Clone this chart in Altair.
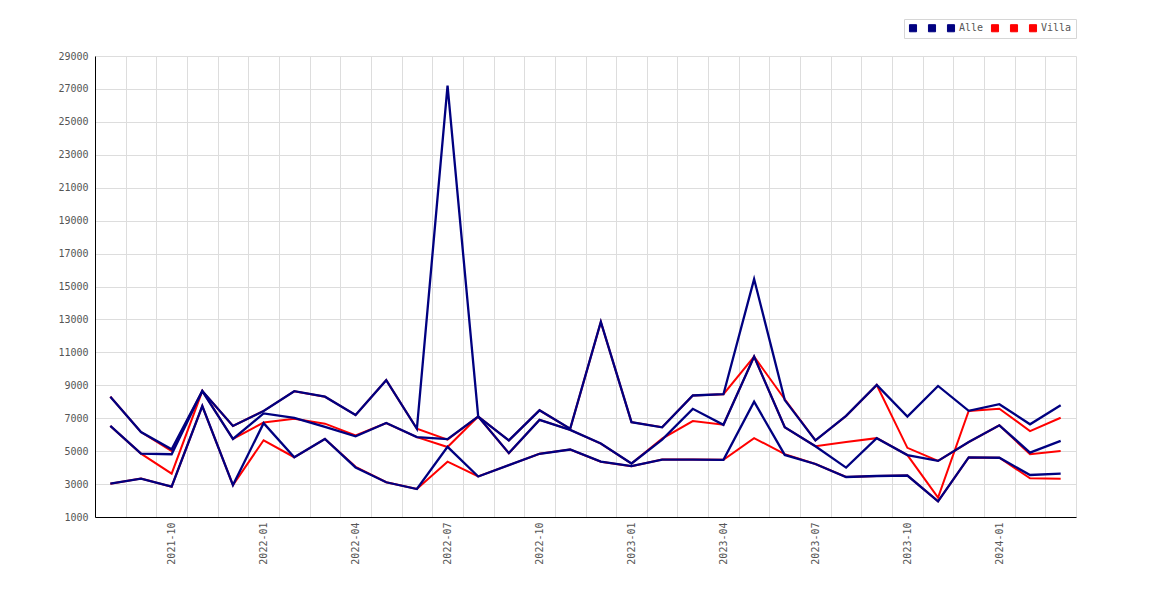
import json
import altair as alt
import pandas as pd

months = ["2021-08", "2021-09", "2021-10", "2021-11", "2021-12", "2022-01", "2022-02", "2022-03",
          "2022-04", "2022-05", "2022-06", "2022-07", "2022-08", "2022-09", "2022-10", "2022-11",
          "2022-12", "2023-01", "2023-02", "2023-03", "2023-04", "2023-05", "2023-06", "2023-07",
          "2023-08", "2023-09", "2023-10", "2023-11", "2023-12", "2024-01", "2024-02", "2024-03"]

alle_1 = [8310, 6160, 5110, 8650, 6530, 7440, 8640, 8310, 7190, 9310, 6360, 27200, 7100, 5650, 7480, 6360,
          12850, 6760, 6450, 8380, 8460, 15450, 8100, 5650, 7140, 9020, 7100, 8960, 7450, 7850, 6630, 7790]
alle_2 = [6530, 4850, 4810, 8650, 5740, 7290, 7020, 6470, 5900, 6710, 5850, 5730, 7100, 4880, 6900, 6290,
          5460, 4250, 5700, 7570, 6600, 10740, 6450, 5300, 4000, 5790, 4760, 4410, 5550, 6570, 4910, 5620]
alle_3 = [3025, 3330, 2840, 7740, 2940, 6700, 4630, 5740, 4010, 3110, 2700, 5260, 3460, 4150, 4840, 5100,
          4360, 4090, 4490, 4490, 4470, 8000, 4770, 4220, 3430, 3490, 3520, 1950, 4620, 4600, 3550, 3630]

villa_1 = [8310, 6160, 5010, 8650, 6530, 7440, 8640, 8310, 7190, 9310, 6360, 5700, 7100, 5650, 7480, 6360,
           12850, 6760, 6450, 8380, 8460, 10740, 8150, 5650, 7140, 9020, 5200, 4410, 5550, 6570, 4810, 5010]
villa_2 = [6530, 4850, 3630, 8650, 5740, 6740, 6970, 6670, 5960, 6710, 5850, 5250, 7100, 4880, 6900, 6290,
           5460, 4250, 5760, 6830, 6610, 10740, 6450, 5300, 5560, 5790, 4760, 2180, 7440, 7580, 6220, 7030]
villa_3 = [3025, 3330, 2840, 7740, 2940, 5660, 4630, 5740, 4050, 3110, 2700, 4360, 3460, 4150, 4840, 5100,
           4360, 4090, 4490, 4490, 4470, 5790, 4820, 4220, 3430, 3490, 3520, 1950, 4620, 4600, 3350, 3330]

series_names = ["a1", "a2", "Alle", "v1", "v2", "Villa"]
series_groups = ["Alle", "Alle", "Alle", "Villa", "Villa", "Villa"]
series_colors = ["#000080", "#000080", "#000080", "#ff0000", "#ff0000", "#ff0000"]
y_ticks = list(range(1000, 29001, 2000))

rows = []
for name, grp, vals in zip(series_names, series_groups,
                           [alle_1, alle_2, alle_3, villa_1, villa_2, villa_3]):
    for i, (m, v) in enumerate(zip(months, vals)):
        rows.append({"i": i, "month": m, "series": name, "group": grp, "value": v})
df = pd.DataFrame(rows)

label_expr = ("(datum.value % 1 == 0 && datum.value % 3 == 2) ? "
              + json.dumps(months) + "[datum.value] : ''")
x_vals = [k / 2 for k in range(-1, 2 * len(months))]

x_enc = alt.X("i:Q",
              scale=alt.Scale(domain=[-0.5, len(months) - 0.5], nice=False, zero=False),
              axis=alt.Axis(values=x_vals, labelExpr=label_expr, labelAngle=270,
                            labelOverlap=False, labelFlush=False, labelPadding=5,
                            ticks=False, tickSize=0, title=None,
                            gridOpacity={"condition": {"test": "datum.value % 1 != 0", "value": 1},
                                         "value": 0}))
y_enc = alt.Y("value:Q",
              scale=alt.Scale(domain=[1000, 29000], nice=False, zero=False),
              axis=alt.Axis(values=y_ticks, format="d", ticks=False, tickSize=0,
                            labelPadding=7, title=None))
color_scale = alt.Scale(domain=series_names, range=series_colors)

legend_color = alt.Color(
    "series:N",
    scale=color_scale,
    legend=alt.Legend(
        title=None, orient="none", legendX=809, legendY=-37, direction="horizontal",
        columns=6, symbolType="square", symbolSize=50, labelOffset=3, columnPadding=5,
        padding=4, strokeColor="#d6d6d6", fillColor="#ffffff",
        symbolStrokeColor="#666666", symbolStrokeWidth=1, symbolOpacity=1,
        labelExpr="(datum.label == 'Alle' || datum.label == 'Villa') ? datum.label : ' '",
    ),
)
line_color = alt.Color("series:N", scale=color_scale, legend=None)

base = alt.Chart(df).encode(x=x_enc, y=y_enc)
keys = base.mark_square(size=0, filled=True).encode(color=legend_color)
red = base.transform_filter(alt.datum.group == "Villa").mark_line(strokeWidth=2).encode(color=line_color)
navy = base.transform_filter(alt.datum.group == "Alle").mark_line(strokeWidth=2.3).encode(color=line_color)

chart = alt.layer(keys, red, navy).properties(
    width=981, height=461,
    padding={"left": 87, "top": 48, "right": 12, "bottom": 62},
    autosize=alt.AutoSizeParams(type="none"),
    background="#ffffff",
).configure_view(
    stroke="transparent"
).configure_axis(
    labelFont="DejaVu Sans Mono", labelFontSize=10, labelColor="#555555",
    gridColor="#dddddd", gridWidth=1, domainColor="#000000", domainWidth=1,
).configure_legend(
    labelFont="DejaVu Sans Mono", labelFontSize=10, labelColor="#555555",
)

chart.save("out.html", embed_options={"renderer": "svg", "actions": False})
